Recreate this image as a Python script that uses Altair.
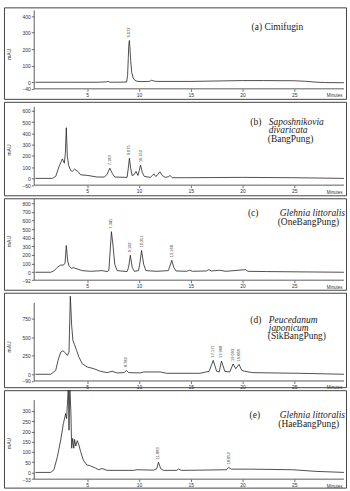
import altair as alt
import pandas as pd

# ---------------------------------------------------------------- data
# (a) Cimifugin standard
a_time = [0, 3, 6, 6.8, 7.0, 7.2, 8.8, 8.9, 8.97, 9.02, 9.072, 9.12, 9.2, 9.3, 9.45, 9.6,
          9.8, 10.2, 11.0, 11.2, 11.4, 11.7, 13, 15, 18, 20, 22, 25, 26, 27, 28, 29.8]
a_signal = [0, 0, 0, 2, 5, 0, 1, 40, 150, 225, 253, 215, 130, 60, 25, 12,
            6, 4, 5, 12, 8, 5, 5, 5, 8, 10, 10, 9, 6, 1, -2, -3]
a_peaks = [9.072]

# (b) Saposhnikovia divaricata
b_time = [0, 1.64, 1.96, 2.28, 2.6, 2.79, 2.89, 2.98, 3.08, 3.21, 3.4, 3.56, 3.78, 4.1, 4.36,
          5.06, 5.96, 6.67, 6.93, 7.183, 7.44, 7.66, 8.85, 8.97, 9.075, 9.2, 9.33, 9.52, 9.71,
          9.9, 10.03, 10.152, 10.32, 10.51, 11.09, 11.28, 11.44, 11.6, 11.73, 12.02, 12.27,
          12.53, 12.85, 13.01, 13.2, 14.61, 20.0, 24.85, 29.8]
b_signal = [0, 0, 18, 106, 173, 135, 223, 450, 194, 115, 71, 62, 82, 62, 32,
            26, 12, 12, 38, 91, 41, 12, 9, 91, 179, 91, 26, 32, 62,
            26, 71, 118, 53, 18, 9, 24, 41, 18, 24, 59, 24,
            9, 15, 26, 6, 6, 9, 6, 0]
b_peaks = [7.183, 9.075, 10.152]

# (c) Glehnia littoralis (OneBangPung)
c_time = [0, 1.48, 1.8, 2.12, 2.44, 2.7, 2.86, 2.98, 3.11, 3.24, 3.47, 3.66, 4.04, 4.52,
          5.32, 5.96, 6.44, 6.93, 7.09, 7.341, 7.5, 7.66, 7.89, 8.85, 9.0, 9.162, 9.35, 9.55,
          9.96, 10.12, 10.251, 10.45, 10.67, 11.72, 12.84, 13.0, 13.168, 13.36, 13.58, 14.6,
          14.86, 15.18, 16.52, 16.75, 17.0, 17.8, 18.4, 20.3, 20.53, 22.3, 29.8]
c_signal = [0, 0, 19, 57, 83, 83, 106, 309, 132, 75, 45, 53, 38, 19,
            11, 15, 19, 8, 19, 471, 302, 94, 19, 8, 57, 196, 57, 11,
            19, 132, 253, 94, 19, 11, 19, 75, 139, 57, 15, 11,
            23, 11, 15, 30, 15, 23, 11, 30, 11, 8, 0]
c_peaks = [7.341, 9.162, 10.251, 13.168]

# (d) Peucedanum japonicum (SikBangPung)
d_time = [0, 1.48, 1.96, 2.18, 2.44, 2.66, 2.92, 3.08, 3.24, 3.37, 3.5, 3.62, 3.78, 3.98,
          4.2, 4.52, 5.0, 5.64, 6.28, 6.93, 7.4, 7.89, 8.59, 8.782, 9.0, 10.12, 10.45, 12.05,
          12.69, 15.89, 16.78, 17.171, 17.5, 17.75, 17.968, 18.29, 18.77, 19.093, 19.35,
          19.668, 19.92, 20.21, 21.0, 25.5, 29.8]
d_signal = [0, 0, 53, 186, 297, 315, 284, 253, 297, 1050, 653, 453, 395, 320,
            231, 142, 98, 75, 40, 22, 40, 18, 22, 53, 22, 18, 31, 31,
            13, 13, 40, 186, 40, 31, 178, 40, 31, 138, 75,
            133, 53, 40, 22, 13, 0]
d_peaks = [8.782, 17.171, 17.968, 19.093, 19.668]

# (e) Glehnia littoralis (HaeBangPung)
e_time = [0, 1.48, 1.79, 2.12, 2.44, 2.7, 2.92, 3.01, 3.18, 3.24, 3.32, 3.42, 3.5, 3.6,
          3.7, 3.78, 3.9, 4.04, 4.2, 4.36, 4.62, 4.94, 5.32, 5.8, 6.12, 6.44, 6.92, 9.49,
          9.8, 11.4, 11.72, 11.883, 12.1, 12.37, 13.65, 13.81, 14.13, 15.89, 18.45, 18.652,
          18.93, 20.7, 24.85, 27.1, 29.8]
e_signal = [0, 0, 13, 77, 158, 239, 287, 263, 420, 206, 420, 300, 118, 166,
            118, 161, 129, 155, 134, 102, 61, 37, 32, 21, 13, 19, 10, 10,
            13, 11, 18, 50, 18, 10, 10, 16, 10, 11, 13, 24,
            16, 16, 13, 5, 0]
e_peaks = [11.883, 18.652]

# y-axis tick values of each panel
a_ticks = [-40, 0, 100, 200, 300, 400]
b_ticks = [-60, 0, 100, 200, 300, 400, 500, 600]
c_ticks = [-92, 0, 100, 200, 300, 400, 500, 600, 700, 800]
d_ticks = [-90, 0, 250, 500, 750]
e_ticks = [-33, 0, 50, 100, 150, 200, 250, 300]
x_ticks = [5, 10, 15, 20, 25]

# ---------------------------------------------------------------- styling
W = 344                      # panel box width (px)
X_LO, X_HI = -3.04, 30.0     # minutes spanned by the panel box
AXIS_X0, AXIS_X1 = -0.12, 29.8
YAXIS_OFFSET = -30           # y axis sits inside the box
INK = "#333333"
SERIF = "Liberation Serif"


def panel(time, signal, peaks, ticks, H, zero_px, px_per_unit, y_axis_top,
          mau_y, captions):
    y_hi = zero_px / px_per_unit
    y_lo = -(H - zero_px) / px_per_unit
    y_axis_min = ticks[0]
    axis_px = zero_px - y_axis_min * px_per_unit

    xs = alt.Scale(domain=[X_LO, X_HI], nice=False, zero=False)
    ys = alt.Scale(domain=[y_lo, y_hi], nice=False, zero=False)
    # one axis definition shared by every layer so the merged axis keeps it
    x_axis = alt.Axis(
        values=x_ticks, offset=-(H - axis_px), domain=False, grid=False,
        tickSize=2.5, tickColor=INK, tickWidth=0.7, labelFontSize=5,
        labelColor=INK, labelPadding=1, labelOverlap=False, title="Minutes",
        titleFontSize=4.5, titleFontWeight="normal", titleColor=INK,
        titleX=332, titleY=7, titleAlign="center", titleBaseline="middle")
    y_axis = alt.Axis(
        values=ticks, offset=YAXIS_OFFSET, domain=False, grid=False,
        tickSize=2.5, tickColor=INK, tickWidth=0.7, labelFontSize=5,
        labelColor=INK, labelPadding=1, labelOverlap=False, title="mAU",
        titleFontSize=5, titleFontWeight="normal", titleColor=INK,
        titleX=-25, titleY=mau_y, titleAlign="center", titleBaseline="middle",
        titleAngle=270)

    def X(field):
        return alt.X(field, scale=xs, axis=x_axis, title="Minutes")

    def Y(field):
        return alt.Y(field, scale=ys, axis=y_axis, title="mAU")

    df = pd.DataFrame({"t": time, "v": signal})
    trace = alt.Chart(df).mark_line(color="#222222", strokeWidth=0.8, clip=True).encode(
        x=X("t:Q"), y=Y("v:Q"))

    axes_df = pd.DataFrame({"t": [AXIS_X0, AXIS_X0], "t2": [AXIS_X1, AXIS_X0],
                            "v": [y_axis_min, y_axis_min], "v2": [y_axis_min, y_axis_top]})
    axis_lines = alt.Chart(axes_df).mark_rule(color=INK, strokeWidth=0.8).encode(
        x=X("t:Q"), x2="t2:Q", y=Y("v:Q"), y2="v2:Q")

    lookup = dict(zip(time, signal))
    pk = pd.DataFrame({"t": peaks, "v": [lookup[p] for p in peaks],
                       "lab": [f"{p:.3f}" for p in peaks]})
    labels = alt.Chart(pk).mark_text(angle=270, align="left", baseline="middle",
                                     dx=3, fontSize=4, color=INK).encode(
        x=X("t:Q"), y=Y("v:Q"), text="lab:N")

    layers = [trace, axis_lines, labels]
    for text, cx, cy, align, italic in captions:
        layers.append(alt.Chart(pd.DataFrame({"s": [text]})).mark_text(
            align=align, baseline="middle", font=SERIF, fontSize=9.5, color="#222222",
            fontStyle="italic" if italic else "normal").encode(
            x=alt.value(cx), y=alt.value(cy), text="s:N"))
    return alt.layer(*layers).properties(width=W, height=H)


pa = panel(a_time, a_signal, a_peaks, a_ticks, 92, 75.3, 0.166, 435, 46.7, [
    ("(a)  Cimifugin", 249, 20, "left", False)])
pb = panel(b_time, b_signal, b_peaks, b_ticks, 94, 77, 0.1133, 635, 48, [
    ("(b)", 247.7, 20, "left", False),
    ("Saposhnikovia", 266.3, 20, "left", True),
    ("divaricata", 266.3, 28.5, "left", True),
    ("(BangPung)", 265.3, 37, "left", False)])
pc = panel(c_time, c_signal, c_peaks, c_ticks, 92, 74.4, 0.0867, 850, 43, [
    ("(c)", 245.3, 15.3, "left", False),
    ("Glehnia littoralis", 343, 15.3, "right", True),
    ("(OneBangPung)", 337, 23.5, "right", False)])
pd_ = panel(d_time, d_signal, d_peaks, d_ticks, 95, 82, 0.0748, 960, 54, [
    ("(d)", 247.7, 27, "left", False),
    ("Peucedanum", 266.3, 27, "left", True),
    ("japonicum", 266.3, 35.5, "left", True),
    ("(SikBangPung)", 265.3, 44, "left", False)])
pe = panel(e_time, e_signal, e_peaks, e_ticks, 98, 82.7, 0.206, 353, 53, [
    ("(e)", 247, 25.3, "left", False),
    ("Glehnia littoralis", 343, 25.3, "right", True),
    ("(HaeBangPung)", 337, 34, "right", False)])

chart = alt.vconcat(pa, pb, pc, pd_, pe, spacing=3, bounds="flush").properties(
    padding={"left": 3, "top": 5, "right": 3, "bottom": 3},
    background="white",
).configure_view(stroke="#444444", strokeWidth=1)

chart.save("out.html", embed_options={"renderer": "svg", "actions": False})
